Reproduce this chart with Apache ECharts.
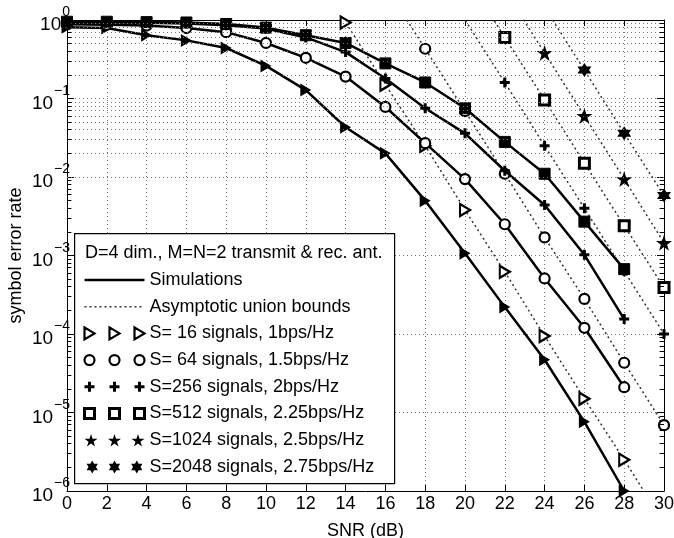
<!DOCTYPE html>
<html>
<head>
<meta charset="utf-8">
<script src="https://cdn.jsdelivr.net/npm/echarts@6/dist/echarts.min.js"></script>
<style>
html, body { margin: 0; padding: 0; background: #fff; }
#chart { width: 674px; height: 538px; }
</style>
</head>
<body>
<div id="chart"></div>
<script>
// SNR points of the simulated curves
var snr = [0, 2, 4, 6, 8, 10, 12, 14, 16, 18, 20, 22, 24, 26, 28];
// simulations (solid lines)
var sim16  = [0.81, 0.79, 0.64, 0.55, 0.44, 0.26, 0.128, 0.043, 0.020, 0.005, 0.00107, 2.2e-4, 4.7e-5, 7.6e-6, 1.0e-6];
var sim64  = [0.88, 0.87, 0.85, 0.79, 0.70, 0.51, 0.33, 0.19, 0.078, 0.027, 0.0094, 0.0025, 5.1e-4, 1.2e-4, 2.1e-5];
var sim256 = [0.93, 0.93, 0.92, 0.90, 0.86, 0.78, 0.60, 0.39, 0.18, 0.075, 0.036, 0.012, 0.0044, 0.00102, 1.55e-4];
var sim512 = [0.95, 0.95, 0.94, 0.93, 0.89, 0.80, 0.64, 0.51, 0.28, 0.16, 0.075, 0.028, 0.011, 0.0027, 6.7e-4];

// asymptotic union bounds (dotted lines), first/last points run off the plot
var bnd16X   = [12, 14, 16, 18, 20, 22, 24, 26, 28, 30];
var bnd16    = [5.9, 0.93, 0.15, 0.025, 0.0038, 6.2e-4, 9.4e-5, 1.5e-5, 2.5e-6, 3.9e-7];
var bnd64X   = [16, 18, 20, 22, 24, 26, 28, 30];
var bnd64    = [2.7, 0.43, 0.069, 0.011, 1.7e-3, 2.8e-4, 4.3e-5, 6.9e-6];
var bnd256X  = [18, 22, 24, 26, 28, 30];
var bnd256   = [6.3, 0.16, 0.025, 4.0e-3, 6.3e-4, 1.0e-4];
var bnd512X  = [20, 22, 24, 26, 28, 30];
var bnd512   = [3.8, 0.60, 0.096, 0.015, 2.4e-3, 3.9e-4];
var bnd1024X = [22, 24, 26, 28, 30];
var bnd1024  = [2.4, 0.38, 0.06, 0.0094, 1.45e-3];
var bnd2048X = [24, 26, 28, 30];
var bnd2048  = [1.45, 0.23, 0.036, 5.8e-3];

var setNames = ['S= 16 signals, 1bps/Hz', 'S= 64 signals, 1.5bps/Hz', 'S=256 signals, 2bps/Hz',
                'S=512 signals, 2.25bps/Hz', 'S=1024 signals, 2.5bps/Hz', 'S=2048 signals, 2.75bps/Hz'];

var font = '"Liberation Sans", Arial, Helvetica, sans-serif';

// marker shapes
var triPts  = [[0, 0], [10, 6], [0, 12]];
var plusPts = [[3.5, 0], [6.5, 0], [6.5, 3.5], [10, 3.5], [10, 6.5], [6.5, 6.5], [6.5, 10], [3.5, 10], [3.5, 6.5], [0, 6.5], [0, 3.5], [3.5, 3.5]];
var sqPts   = [[0, 0], [10, 0], [10, 10], [0, 10]];
var starPts = [[7, 0], [8.57, 4.83], [13.66, 4.83], [9.55, 7.83], [11.12, 12.67], [7, 9.67], [2.88, 12.67], [4.45, 7.83], [0.34, 4.83], [5.43, 4.83]];
var hexPath = 'M7,0L13.06,10.5L0.94,10.5Z M7,14L0.94,3.5L13.06,3.5Z';

function poly(pts, dx) {
  return 'M' + pts.map(function (p) { return (p[0] + dx) + ',' + p[1]; }).join('L') + 'Z';
}
function sym(pts) { return 'path://' + poly(pts, 0); }
function triple(pts, step) {
  return 'path://' + poly(pts, 0) + ' ' + poly(pts, step) + ' ' + poly(pts, 2 * step);
}
function tripleCircle(r, step) {
  var s = '';
  for (var k = 0; k < 3; k++) {
    var cx = r + k * step;
    s += 'M' + (cx - r) + ',' + r + 'A' + r + ',' + r + ',0,1,0,' + (cx + r) + ',' + r +
         'A' + r + ',' + r + ',0,1,0,' + (cx - r) + ',' + r + 'Z ';
  }
  return 'path://' + s;
}
function tripleHex(step) {
  var s = '';
  for (var k = 0; k < 3; k++) {
    var d = k * step;
    s += 'M' + (7 + d) + ',0L' + (13.06 + d) + ',10.5L' + (0.94 + d) + ',10.5Z ';
    s += 'M' + (7 + d) + ',14L' + (0.94 + d) + ',3.5L' + (13.06 + d) + ',3.5Z ';
  }
  return 'path://' + s;
}
function pairs(xs, ys) {
  return xs.map(function (x, i) { return [x, ys[i]]; });
}

var filled = { color: '#000', borderColor: '#000', borderWidth: 0 };
var hollow = { color: '#fff', borderColor: '#000', borderWidth: 2.2 };
var hollowSq = { color: '#fff', borderColor: '#000', borderWidth: 3 };
var noMark = { color: 'rgba(0,0,0,0)', borderColor: 'rgba(0,0,0,0)', borderWidth: 0, opacity: 0 };

function simSeries(name, data, symbol, size, style) {
  return {
    name: name, type: 'line', z: 4, data: pairs(snr, data),
    symbol: symbol, symbolSize: size, itemStyle: style,
    lineStyle: { color: '#000', width: 2.5 }
  };
}
function bndSeries(name, xs, ys, symbol, size, style) {
  return {
    name: name, type: 'line', z: 3, data: pairs(xs, ys),
    symbol: symbol, symbolSize: size, itemStyle: style,
    lineStyle: { color: '#333', width: 1.5, type: [2, 3] }
  };
}

// minor grid values of the log axis
var minorVals = [];
var tickSegs = [];
for (var e = 0; e < 6; e++) {
  for (var m = 2; m <= 9; m++) {
    var v = m * Math.pow(10, -(e + 1));
    minorVals.push({ yAxis: v });
    tickSegs.push([{ coord: [0, v] }, { coord: [0.22, v] }]);
    tickSegs.push([{ coord: [29.78, v] }, { coord: [30, v] }]);
  }
}

var myChart = echarts.init(document.getElementById('chart'));

var option = {
  animation: false,
  backgroundColor: '#fff',
  grid: { left: 67, right: 10, top: 20, bottom: 47, containLabel: false, outerBoundsMode: 'none' },
  xAxis: [
    {
      type: 'value', min: 0, max: 30, interval: 2, position: 'bottom',
      name: 'SNR (dB)', nameLocation: 'middle', nameGap: 31, nameMoveOverlap: false,
      nameTextStyle: { fontSize: 18, color: '#000', fontFamily: font },
      axisLine: { onZero: false, lineStyle: { color: '#000', width: 1 } },
      axisTick: { inside: true, length: 6, lineStyle: { color: '#000' } },
      axisLabel: { fontSize: 18, color: '#000', margin: 4, fontFamily: font },
      splitLine: { show: true, lineStyle: { color: '#777', type: [1, 3], width: 1 } }
    },
    {
      type: 'value', min: 0, max: 30, interval: 2, position: 'top',
      axisLine: { onZero: false, lineStyle: { color: '#000', width: 1 } },
      axisTick: { inside: true, length: 6, lineStyle: { color: '#000' } },
      axisLabel: { show: false }, splitLine: { show: false }
    }
  ],
  yAxis: [
    {
      type: 'log', logBase: 10, min: 1e-6, max: 1, splitNumber: 6,
      name: 'symbol error rate', nameLocation: 'middle', nameGap: 42, nameRotate: 90, nameMoveOverlap: false,
      nameTextStyle: { fontSize: 18, color: '#000', fontFamily: font },
      axisLine: { onZero: false, lineStyle: { color: '#000', width: 1 } },
      axisTick: { inside: true, length: 7, lineStyle: { color: '#000' } },
      axisLabel: {
        margin: -3, hideOverlap: false,
        formatter: function (val) {
          var ex = Math.round(Math.log(val) / Math.LN10);
          return '{b|10}{s|' + (ex === 0 ? '0' : '\u2212' + (-ex)) + '}';
        },
        rich: {
          b: { fontSize: 19, lineHeight: 29, color: '#000', fontFamily: font, verticalAlign: 'bottom' },
          s: { fontSize: 14, lineHeight: 14, color: '#000', fontFamily: font, verticalAlign: 'top', padding: [0, 0, 17, 1] }
        }
      },
      splitLine: { show: true, lineStyle: { color: '#777', type: [1, 3], width: 1 } }
    },
    {
      type: 'log', logBase: 10, min: 1e-6, max: 1, splitNumber: 6, position: 'right',
      axisLine: { onZero: false, lineStyle: { color: '#000', width: 1 } },
      axisTick: { inside: true, length: 7, lineStyle: { color: '#000' } },
      axisLabel: { show: false }, splitLine: { show: false }
    }
  ],
  graphic: [
    {
      type: 'rect', left: 74, top: 233, z: 50,
      shape: { width: 320, height: 250 },
      style: { fill: '#fff', stroke: '#000', lineWidth: 1.2 }
    },
    {
      type: 'text', left: 85, top: 244, z: 51,
      style: { text: 'D=4 dim., M=N=2 transmit & rec. ant.', font: '18px ' + font, fill: '#000' }
    }
  ],
  legend: {
    orient: 'vertical', left: 83, top: 271, padding: 0, z: 60,
    itemWidth: 60, itemHeight: 13, itemGap: 8.7, selectedMode: false,
    textStyle: { fontSize: 18, lineHeight: 18, color: '#000', fontFamily: font },
    data: [
      { name: 'Simulations', itemStyle: noMark, lineStyle: { color: '#000', width: 2.5, type: 'solid' } },
      { name: 'Asymptotic union bounds', itemStyle: noMark, lineStyle: { color: '#333', width: 1.5, type: [2, 3] } },
      { name: setNames[0], icon: triple(triPts, 25), itemStyle: hollow },
      { name: setNames[1], icon: tripleCircle(5, 25), itemStyle: hollow },
      { name: setNames[2], icon: triple(plusPts, 25), itemStyle: filled },
      { name: setNames[3], icon: triple(sqPts, 25), itemStyle: hollowSq },
      { name: setNames[4], icon: triple(starPts, 24), itemStyle: filled },
      { name: setNames[5], icon: tripleHex(24), itemStyle: filled }
    ]
  },
  series: [
    {
      name: 'minor grid', type: 'line', data: [], silent: true, z: 1,
      markLine: {
        silent: true, animation: false, symbol: ['none', 'none'], label: { show: false },
        lineStyle: { color: '#777', type: [1, 3], width: 1 },
        emphasis: { disabled: true },
        data: minorVals
      }
    },
    {
      name: 'minor ticks', type: 'line', data: [], silent: true, z: 1,
      markLine: {
        silent: true, animation: false, symbol: ['none', 'none'], label: { show: false },
        lineStyle: { color: '#000', type: 'solid', width: 1 },
        emphasis: { disabled: true },
        data: tickSegs
      }
    },
    { name: 'Simulations', type: 'line', data: [], symbol: 'none', itemStyle: { color: '#000' }, lineStyle: { color: '#000', width: 2.5 } },
    { name: 'Asymptotic union bounds', type: 'line', data: [], symbol: 'none', itemStyle: { color: '#333' }, lineStyle: { color: '#333', width: 1.5, type: [2, 3] } },

    bndSeries(setNames[0], bnd16X, bnd16, sym(triPts), [10, 12], hollow),
    bndSeries(setNames[1], bnd64X, bnd64, 'circle', 10, hollow),
    bndSeries(setNames[2], bnd256X, bnd256, sym(plusPts), 10, filled),
    bndSeries(setNames[3], bnd512X, bnd512, sym(sqPts), 10, hollowSq),
    bndSeries(setNames[4], bnd1024X, bnd1024, sym(starPts), 16, filled),
    bndSeries(setNames[5], bnd2048X, bnd2048, 'path://' + hexPath, 14, filled),

    simSeries(setNames[0], sim16, sym(triPts), [11, 13], filled),
    simSeries(setNames[1], sim64, 'circle', 10, hollow),
    simSeries(setNames[2], sim256, sym(plusPts), 10, filled),
    simSeries(setNames[3], sim512, sym(sqPts), 11, { color: '#000', borderColor: '#000', borderWidth: 1 })
  ]
};

myChart.setOption(option);
</script>
</body>
</html>
